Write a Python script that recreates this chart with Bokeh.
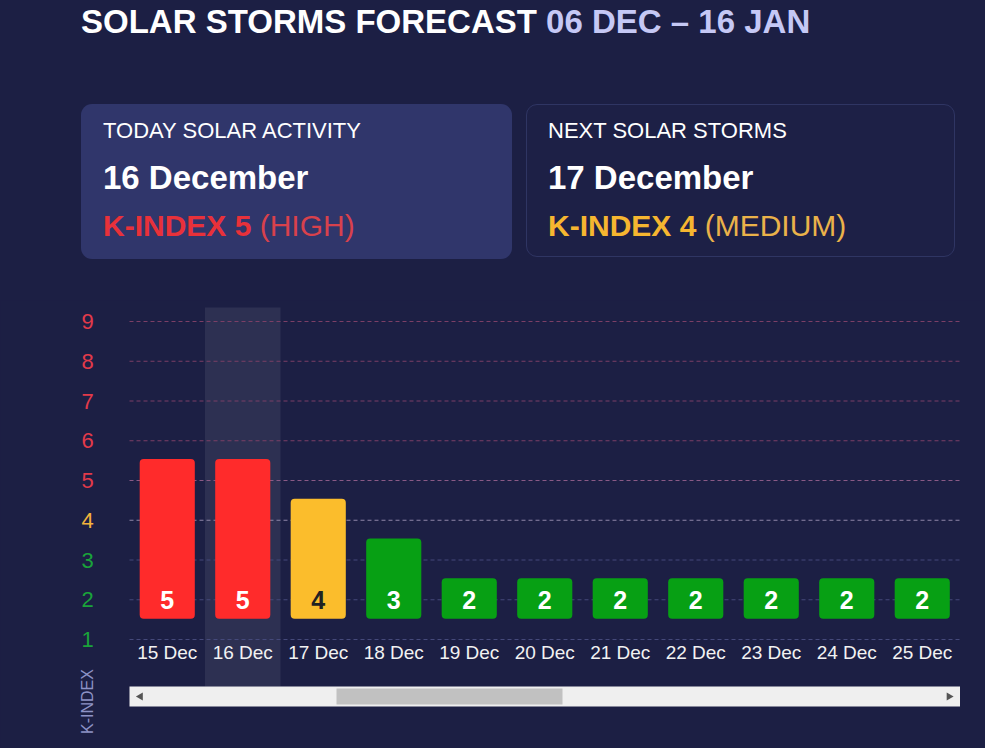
import math
from bokeh.plotting import figure
from bokeh.models import Div, Range1d, ColumnDataSource
from bokeh.layouts import column
from bokeh.core.properties import value
from bokeh.embed import file_html
from bokeh.resources import INLINE

# ---------------- data ----------------
dates = ["15 Dec", "16 Dec", "17 Dec", "18 Dec", "19 Dec", "20 Dec",
         "21 Dec", "22 Dec", "23 Dec", "24 Dec", "25 Dec"]
k_index = [5, 5, 4, 3, 2, 2, 2, 2, 2, 2, 2]
y_ticks = [1, 2, 3, 4, 5, 6, 7, 8, 9]
today = "16 Dec"

title_main = "SOLAR STORMS FORECAST"
title_period = "06 DEC \u2013 16 JAN"
card1_head, card1_date, card1_k, card1_lvl = "TODAY SOLAR ACTIVITY", "16 December", "K-INDEX 5", "(HIGH)"
card2_head, card2_date, card2_k, card2_lvl = "NEXT SOLAR STORMS", "17 December", "K-INDEX 4", "(MEDIUM)"

# ---------------- style ----------------
BG = "#1c1f44"
CARD = "#30366b"
FONT = "Liberation Sans"
RED, YEL, GRN = "#ff2b2b", "#fbbd2c", "#07a014"
LBL_RED, LBL_YEL, LBL_GRN = "#e23a4a", "#f2b23c", "#1aa33a"


def level_color(k):
    return RED if k >= 5 else (YEL if k == 4 else GRN)


def label_color(k):
    return LBL_RED if k >= 5 else (LBL_YEL if k == 4 else LBL_GRN)


def grid_color(k):
    if k >= 6:
        return "#7b3f66"
    if k == 5:
        return "#8a5a86"
    if k == 4:
        return "#8e86a8"
    return "#45497a"


# ---------------- header (HTML) ----------------
header_html = f"""
<div style="position:relative;width:985px;height:300px;background:{BG};font-family:'{FONT}',Arial,sans-serif;overflow:hidden;">
  <div style="position:absolute;left:81px;top:5px;font-size:33px;line-height:1;font-weight:bold;color:#ffffff;white-space:nowrap;">{title_main} <span style="color:#c5c8f5;">{title_period}</span></div>
  <div style="position:absolute;left:81px;top:104px;width:431px;height:155px;border-radius:11px;background:{CARD};"></div>
  <div style="position:absolute;left:526px;top:104px;width:429px;height:153px;border-radius:11px;border:1px solid #2f3563;background:#1d2046;"></div>
  <div style="position:absolute;left:103px;top:120px;font-size:22px;line-height:1;color:#ffffff;white-space:nowrap;">{card1_head}</div>
  <div style="position:absolute;left:103px;top:161px;font-size:33px;line-height:1;font-weight:bold;color:#ffffff;white-space:nowrap;">{card1_date}</div>
  <div style="position:absolute;left:103px;top:211px;font-size:30px;line-height:1;white-space:nowrap;"><span style="font-weight:bold;color:#e8313a;">{card1_k}</span> <span style="color:#d8414c;">{card1_lvl}</span></div>
  <div style="position:absolute;left:548px;top:120px;font-size:22px;line-height:1;color:#ffffff;white-space:nowrap;">{card2_head}</div>
  <div style="position:absolute;left:548px;top:161px;font-size:33px;line-height:1;font-weight:bold;color:#ffffff;white-space:nowrap;">{card2_date}</div>
  <div style="position:absolute;left:548px;top:211px;font-size:30px;line-height:1;white-space:nowrap;"><span style="font-weight:bold;color:#f6b630;">{card2_k}</span> <span style="color:#eab24a;">{card2_lvl}</span></div>
</div>
"""
header = Div(text=header_html, width=985, height=300, margin=0,
             styles={"background-color": BG})

# ---------------- chart ----------------
PX_CAT = 75.5      # pixels per category
FRAME_X0 = 129     # pixel of first category's left edge
PX_UNIT = 39.75    # pixels per k-index unit
Y9_PX = 21         # pixel (from chart top) of gridline 9
W, H = 985, 448

x_start = -FRAME_X0 / PX_CAT - 0.5
x_end = (W - FRAME_X0) / PX_CAT - 0.5
y_end = 9 + Y9_PX / PX_UNIT
y_start = 9 - (H - Y9_PX) / PX_UNIT

p = figure(width=W, height=H, output_backend="svg", toolbar_location=None,
           x_range=Range1d(x_start, x_end), y_range=Range1d(y_start, y_end),
           min_border_left=0, min_border_right=0, min_border_top=0, min_border_bottom=0,
           background_fill_color=BG, border_fill_color=BG, outline_line_color=None,
           tools="")
p.axis.visible = False
p.grid.visible = False

n = len(dates)
idx = list(range(n))
left_edge, right_edge = -0.5, n - 0.5

# highlight of today's column
ti = dates.index(today)
p.quad(left=[ti - 0.5], right=[ti + 0.5], top=[y_end - 7 / PX_UNIT], bottom=[-0.18],
       fill_color="#ffffff", fill_alpha=0.08, line_color=None)

# gridlines
p.segment(x0=[left_edge] * len(y_ticks), x1=[right_edge] * len(y_ticks),
          y0=y_ticks, y1=y_ticks, line_color=[grid_color(k) for k in y_ticks],
          line_width=1, line_dash="4 3")

# bars
src = ColumnDataSource(dict(
    x=idx, top=[k + 0.54 for k in k_index], bottom=[1.52] * n,
    color=[level_color(k) for k in k_index],
    txt=[str(k) for k in k_index],
    txt_color=["#222222" if k == 4 else "#ffffff" for k in k_index],
    ty=[2] * n,
))
p.vbar(x="x", top="top", bottom="bottom", width=0.73, fill_color="color",
       line_color=None, source=src, border_radius=4)
p.text(x="x", y="ty", text="txt", text_color="txt_color", source=src,
       text_font=value(FONT), text_font_style="bold", text_font_size="25px",
       text_align="center", text_baseline="middle")

# x labels
p.text(x=idx, y=[0.673] * n, text=dates, text_color="#f2f2f2",
       text_font=value(FONT), text_font_size="19px",
       text_align="center", text_baseline="middle")

# y labels
p.text(x=[left_edge] * len(y_ticks), y=y_ticks, text=[str(k) for k in y_ticks],
       text_color=[label_color(k) for k in y_ticks], x_offset=-42,
       text_font=value(FONT), text_font_size="22px",
       text_align="center", text_baseline="middle")

# axis title
p.text(x=[left_edge], y=[-0.56], text=["K-INDEX"], x_offset=-42, angle=math.pi / 2,
       text_color="#8d92c6", text_font=value(FONT), text_font_size="16px",
       text_align="center", text_baseline="middle")

# scrollbar (decoration)
track_top, track_bottom = -0.18, -0.686
p.quad(left=[left_edge], right=[right_edge], top=[track_top], bottom=[track_bottom],
       fill_color="#efefef", line_color=None)
thumb_l = left_edge + (336 - FRAME_X0) / PX_CAT
thumb_r = left_edge + (562 - FRAME_X0) / PX_CAT
p.quad(left=[thumb_l], right=[thumb_r], top=[track_top - 2 / PX_UNIT],
       bottom=[track_bottom + 2 / PX_UNIT], fill_color="#c1c1c1", line_color=None)
mid = (track_top + track_bottom) / 2
p.scatter(x=[left_edge + 11 / PX_CAT, right_edge - 11 / PX_CAT], y=[mid, mid],
          marker="triangle", size=8, angle=[math.pi / 2, -math.pi / 2],
          fill_color="#555555", line_color=None)

layout = column(header, p, spacing=0, styles={"background-color": BG})

open("out.html", "w").write(file_html(layout, INLINE))
